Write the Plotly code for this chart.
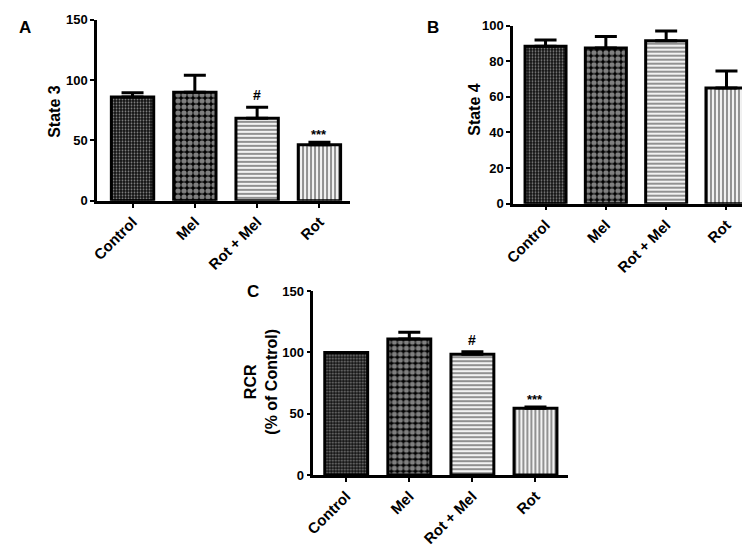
import plotly.graph_objects as go

categories = ["Control", "Mel", "Rot + Mel", "Rot"]

state3 = [86, 90, 68.5, 46.5]
state3_err = [3.5, 14, 9, 2]

state4 = [88.5, 87.5, 91.5, 65]
state4_err = [3.5, 6.5, 5.5, 9.5]

rcr = [100, 111, 98.5, 54.5]
rcr_err = [0, 5.5, 2, 1]

sig_state3 = ["", "", "#", "***"]
sig_rcr = ["", "", "#", "***"]

W, H = 750, 546
FONT = "Liberation Sans, Arial, sans-serif"

patterns = [
    dict(shape=".", bgcolor="#111111", fgcolor="#ffffff", size=3, solidity=0.3),
    dict(shape=".", bgcolor="#000000", fgcolor="#ffffff", size=6, solidity=0.6),
    dict(shape="-", bgcolor="#f2f2f2", fgcolor="#000000", size=4, solidity=0.4),
    dict(shape="|", bgcolor="#f2f2f2", fgcolor="#000000", size=4, solidity=0.4),
]

fig = go.Figure()


def add_panel(idx, vals, errs):
    xs = "x" if idx == 1 else f"x{idx}"
    ys = "y" if idx == 1 else f"y{idx}"
    for i, cat in enumerate(categories):
        fig.add_trace(go.Bar(
            x=[cat], y=[vals[i]], xaxis=xs, yaxis=ys, width=0.68,
            marker=dict(color="white", line=dict(color="black", width=3),
                        pattern=patterns[i]),
            error_y=dict(type="data", array=[errs[i]], arrayminus=[0],
                         symmetric=False, thickness=3, width=11, color="black",
                         visible=errs[i] > 0),
            showlegend=False, hoverinfo="skip",
        ))


add_panel(1, state3, state3_err)
add_panel(2, state4, state4_err)
add_panel(3, rcr, rcr_err)

tickfont = dict(family=FONT, size=13, color="black", weight="bold")
xtickfont = dict(family=FONT, size=15, color="black", weight="bold")


def px_dom_x(a, b):
    return [a / W, b / W]


def px_dom_y(bottom, top):
    return [(H - bottom) / H, (H - top) / H]


axis_common = dict(showline=True, linecolor="black", linewidth=2.5, ticks="outside",
                   ticklen=4, tickwidth=2, tickcolor="black", showgrid=False,
                   zeroline=False)

fig.update_layout(
    width=W, height=H, margin=dict(l=0, r=0, t=0, b=0),
    paper_bgcolor="white", plot_bgcolor="white", bargap=0.3,
    xaxis=dict(domain=px_dom_x(81, 337), anchor="y", range=[-0.57, 3.49],
               tickangle=-45, tickfont=xtickfont, categoryorder="array",
               categoryarray=categories, **axis_common),
    yaxis=dict(domain=px_dom_y(191, 5), anchor="x", range=[0, 150],
               tickvals=[0, 50, 100, 150], tickfont=tickfont, **axis_common),
    xaxis2=dict(domain=px_dom_x(502, 748), anchor="y2", range=[-0.54, 3.49],
                tickangle=-45, tickfont=xtickfont, categoryorder="array",
                categoryarray=categories, **axis_common),
    yaxis2=dict(domain=px_dom_y(194, 11), anchor="x2", range=[0, 100],
                tickvals=[0, 20, 40, 60, 80, 100], tickfont=tickfont, **axis_common),
    xaxis3=dict(domain=px_dom_x(300, 558), anchor="y3", range=[-0.52, 3.52],
                tickangle=-45, tickfont=xtickfont, categoryorder="array",
                categoryarray=categories, **axis_common),
    yaxis3=dict(domain=px_dom_y(473, 284), anchor="x3", range=[0, 150],
                tickvals=[0, 50, 100, 150], tickfont=tickfont, **axis_common),
)

ann = []
titlefont = dict(family=FONT, size=16, color="black", weight="bold")
letterfont = dict(family=FONT, size=17, color="black", weight="bold")
ann.append(dict(text="State 3", x=38 / W, y=(H - 99) / H, xref="paper", yref="paper",
                xanchor="center", yanchor="middle",
                textangle=-90, showarrow=False, font=titlefont))
ann.append(dict(text="State 4", x=463 / W, y=(H - 97) / H, xref="paper", yref="paper",
                xanchor="center", yanchor="middle",
                textangle=-90, showarrow=False, font=titlefont))
ann.append(dict(text="RCR<br>(% of Control)", x=247 / W, y=(H - 377) / H, xref="paper",
                yref="paper", xanchor="center", yanchor="middle",
                textangle=-90, showarrow=False, font=titlefont))
for letter, lx, ly in [("A", 8, 13), ("B", 421, 13), ("C", 239, 284)]:
    ann.append(dict(text=letter, x=lx / W, y=(H - ly) / H, xref="paper", yref="paper",
                    xanchor="center", yanchor="middle",
                    showarrow=False, font=letterfont))

for xs, ys, vals, errs, sig in [("x", "y", state3, state3_err, sig_state3),
                                ("x3", "y3", rcr, rcr_err, sig_rcr)]:
    for i, s in enumerate(sig):
        if not s:
            continue
        ann.append(dict(text=s, x=categories[i], y=vals[i] + errs[i], xref=xs, yref=ys,
                        xanchor="center", yanchor="bottom",
                        yshift=2 if s == "#" else -2, showarrow=False,
                        font=dict(family=FONT, size=14 if s == "#" else 13,
                                  color="black", weight="bold")))

fig.update_layout(annotations=ann)

fig.write_html("out.html")
